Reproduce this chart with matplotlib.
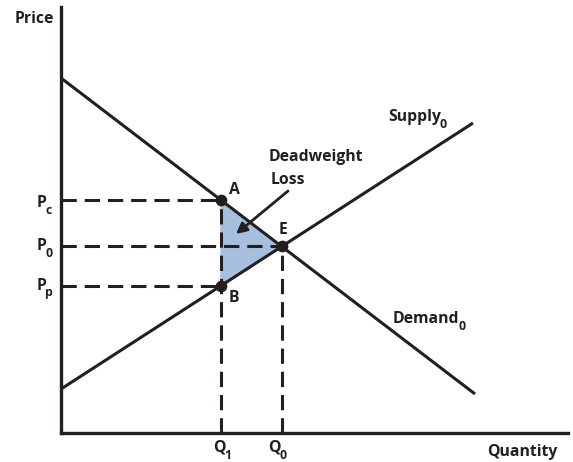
import matplotlib
matplotlib.use('Agg')
import matplotlib.pyplot as plt
import numpy as np

plt.rcParams['font.family'] = ['Open Sans', 'DejaVu Sans']

ink = '#231f20'

# curve end points (quantity, price)
demand_q = [0, 414]
demand_p = [355, 39]
supply_q = [0, 412]
supply_p = [44, 310]
q1 = 160

# slopes / intercepts from the curves
d_slope = (demand_p[1] - demand_p[0]) / (demand_q[1] - demand_q[0])
s_slope = (supply_p[1] - supply_p[0]) / (supply_q[1] - supply_q[0])
q0 = (demand_p[0] - supply_p[0]) / (s_slope - d_slope)
p0 = supply_p[0] + s_slope * q0
pc = demand_p[0] + d_slope * q1
pp = supply_p[0] + s_slope * q1

fig = plt.figure(figsize=(5.73, 4.62), dpi=100)
ax = fig.add_axes([61 / 573, 29 / 462, 507 / 573, 426 / 462])
ax.set_xlim(0, 507)
ax.set_ylim(0, 426)
for s in ['top', 'right']:
    ax.spines[s].set_visible(False)
for s in ['left', 'bottom']:
    ax.spines[s].set_linewidth(2.4)
    ax.spines[s].set_color(ink)
ax.set_xticks([])
ax.set_yticks([])

# deadweight loss triangle
ax.fill([q1, q1, q0], [pc, pp, p0], color='#a6bfdf', zorder=1)

# dashed guides
dash = dict(color=ink, lw=2.2, dashes=(5, 2.6), zorder=2)
ax.plot([0, q1], [pc, pc], **dash)
ax.plot([0, q0], [p0, p0], **dash)
ax.plot([0, q1], [pp, pp], **dash)
ax.plot([q1, q1], [0, pc], **dash)
ax.plot([q0, q0], [0, p0], **dash)

ax.plot(demand_q, demand_p, color=ink, lw=2.2, solid_capstyle='butt', zorder=3)
ax.plot(supply_q, supply_p, color=ink, lw=2.2, solid_capstyle='butt', zorder=3)
ax.scatter([q1, q1, q0], [pc, pp, p0], s=55, color=ink, zorder=4)

fs = 11.3
txt = dict(color=ink, fontsize=fs, fontweight='bold')


def sub_label(x, y, main, sub, ha='left'):
    t = ax.text(x, y, main, ha=ha, va='center', **txt)
    ax.annotate(sub, xy=(1, 0.1), xycoords=t, xytext=(-0.8, -0.5),
                textcoords='offset points', ha='left', va='center',
                color=ink, fontsize=fs * 0.78, fontweight='bold')


fig.text(15 / 573, 1 - 19 / 462, 'Price', va='center', ha='left', **txt)
fig.text(558 / 573, 1 - 452 / 462, 'Quantity', va='center', ha='right', **txt)
sub_label(q1 - 2, -15, 'Q', '1', ha='center')
sub_label(q0 - 7, -15, 'Q', '0', ha='center')
sub_label(-19.5, pc - 3, 'P', 'c', ha='center')
sub_label(-19.5, p0, 'P', '0', ha='center')
sub_label(-19.5, pp, 'P', 'p', ha='center')

ax.text(q1 + 13, pc + 10, 'A', ha='center', va='center', **txt)
ax.text(q1 + 13, pp - 12, 'B', ha='center', va='center', **txt)
ax.text(q0 + 1, p0 + 16.5, 'E', ha='center', va='center', **txt)
ax.text(255, 276, 'Deadweight', ha='center', va='center', **txt)
ax.text(227, 253, 'Loss', ha='center', va='center', **txt)
ax.annotate('', xy=(175, 199), xytext=(227, 242),
            arrowprops=dict(arrowstyle='-|>', color=ink, lw=2, mutation_scale=16,
                            shrinkA=0, shrinkB=0))

sub_label(327, 316, 'Supply', '0')
sub_label(332, 114, 'Demand', '0')

fig.savefig('out.png', dpi=100)
